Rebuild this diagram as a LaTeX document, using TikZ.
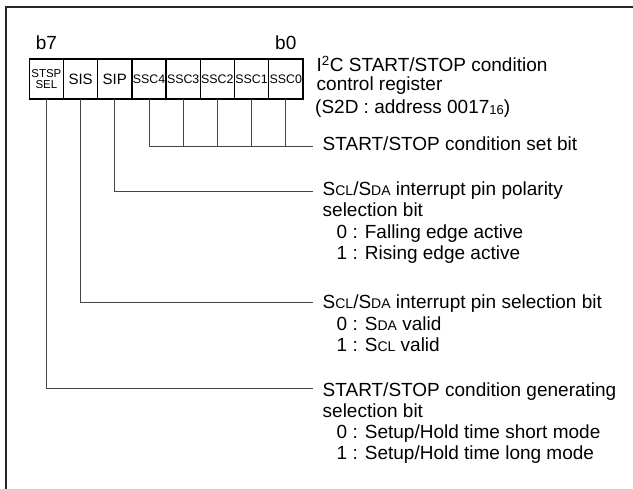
\documentclass[tikz,border=0pt]{standalone}
\usepackage{fontspec}
\setmainfont{Liberation Sans}
\usetikzlibrary{positioning}
\definecolor{regframe}{RGB}{40,40,40}
\definecolor{regleader}{RGB}{70,70,70}
\newcommand{\smallcap}[1]{{\fontsize{14}{14}\selectfont #1}}
\newcommand{\radix}[1]{\raisebox{-1pt}{\fontsize{13}{13}\selectfont #1}}

\begin{document}
\begin{tikzpicture}[x=1pt,y=-1pt,
  cell/.style={draw,line width=1.4pt,outer sep=0pt,inner sep=0pt,minimum width=34.2pt,minimum height=40pt,font=\fontsize{12.4}{12}\selectfont},
  bitno/.style={anchor=base,inner sep=0pt,font=\fontsize{19}{19}\selectfont},
  desc/.style={anchor=base west,inner sep=0pt,align=left,font=\fontsize{19}{21.3}\selectfont},
  lead/.style={regleader,line width=0.8pt}]
  \useasboundingbox (0,0) rectangle (633,489);
  \draw[regframe,line width=1.6pt] (6,489) -- (6,7) -- (633,7);

  % register cells b7..b0
  \node[cell,align=center,font=\fontsize{11.5}{11.5}\selectfont] (c7) at (46.4,79) {STSP\\SEL};
  \node[cell,right=0pt of c7,font=\fontsize{15}{15}\selectfont] (c6) {SIS};
  \node[cell,right=0pt of c6,font=\fontsize{15}{15}\selectfont] (c5) {SIP};
  \node[cell,right=0pt of c5] (c4) {SSC4};
  \node[cell,right=0pt of c4] (c3) {SSC3};
  \node[cell,right=0pt of c3] (c2) {SSC2};
  \node[cell,right=0pt of c2] (c1) {SSC1};
  \node[cell,right=0pt of c1] (c0) {SSC0};

  \node[bitno] (b7) at ([yshift=9pt]c7.north) {b7};
  \node[bitno] (b0) at ([yshift=9pt]c0.north) {b0};

  % register name (base = last line)
  \node[desc,font=\fontsize{19}{18.5}\selectfont] (regname) at (316.5,114)
    {I\textsuperscript{2}C START/STOP condition\\control register\\[5pt]\hspace*{-1.5pt}(S2D : address 0017\radix{16})};

  % bit descriptions (base = last line)
  \node[desc] (setbit) at (322.5,150.5) {START/STOP condition set bit};
  \node[desc] (polbit) at (322.5,259.5)
    {S\smallcap{CL}/S\smallcap{DA} interrupt pin polarity\\selection bit\\
     \hspace*{14pt}0 : Falling edge active\\\hspace*{14pt}1 : Rising edge active};
  \node[desc] (pinbit) at (322.5,351.5)
    {S\smallcap{CL}/S\smallcap{DA} interrupt pin selection bit\\
     \hspace*{14pt}0 : S\smallcap{DA} valid\\\hspace*{14pt}1 : S\smallcap{CL} valid};
  \node[desc] (genbit) at (322.5,460)
    {START/STOP condition generating\\selection bit\\
     \hspace*{14pt}0 : Setup/Hold time short mode\\\hspace*{14pt}1 : Setup/Hold time long mode};

  % leader lines
  \coordinate (e4) at (313,146);
  \coordinate (e5) at (313,191.7);
  \coordinate (e6) at (313,302.7);
  \coordinate (e7) at (313,388.3);
  \draw[lead] (c4.south) |- (e4);
  \foreach \c in {c3,c2,c1,c0}
    \draw[lead] (\c.south) -- (\c.south |- e4);
  \draw[lead] (c5.south) |- (e5);
  \draw[lead] (c6.south) |- (e6);
  \draw[lead] (c7.south) |- (e7);
\end{tikzpicture}
\end{document}
